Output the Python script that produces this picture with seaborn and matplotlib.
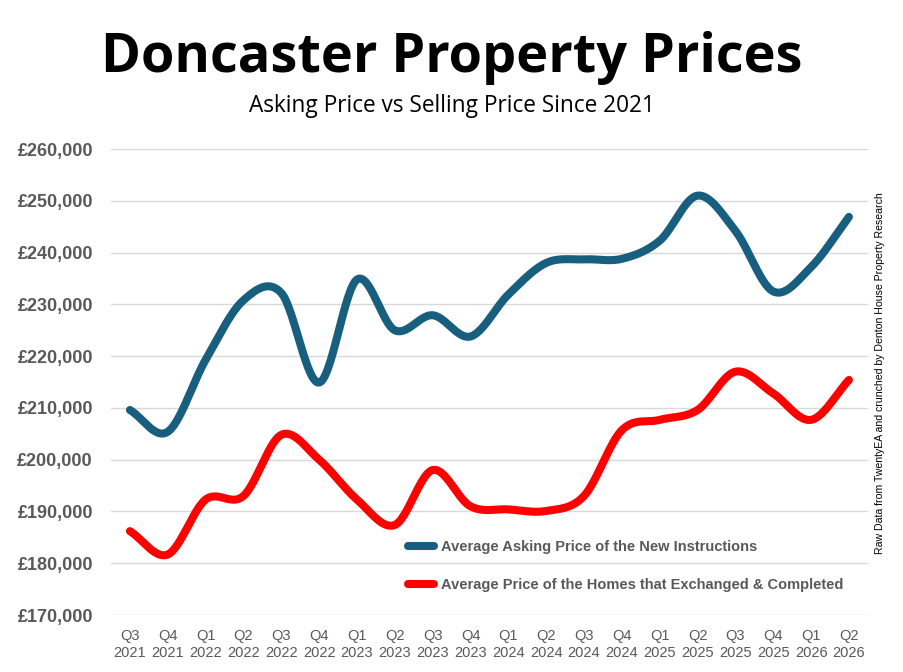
import numpy as np
import pandas as pd
import matplotlib
matplotlib.use("Agg")
import matplotlib.pyplot as plt
import seaborn as sns
from matplotlib.ticker import FuncFormatter

quarters = ["Q3\n2021", "Q4\n2021", "Q1\n2022", "Q2\n2022", "Q3\n2022", "Q4\n2022",
            "Q1\n2023", "Q2\n2023", "Q3\n2023", "Q4\n2023", "Q1\n2024", "Q2\n2024",
            "Q3\n2024", "Q4\n2024", "Q1\n2025", "Q2\n2025", "Q3\n2025", "Q4\n2025",
            "Q1\n2026", "Q2\n2026"]
asking = [209600, 205400, 219300, 230800, 232200, 214900, 234800, 225000, 227900, 223800,
          231900, 238000, 238700, 238800, 242300, 251000, 244200, 232500, 237200, 246900]
selling = [186200, 181700, 192300, 193000, 204800, 200000, 192300, 187400, 198000, 191000,
           190400, 190100, 193000, 205700, 207700, 209600, 217000, 212800, 207700, 215400]
asking_label = "Average Asking Price of the New Instructions"
selling_label = "Average Price of the Homes that Exchanged & Completed"
yticks = list(range(170000, 260001, 10000))

BLUE = "#175E7F"
RED = "#FF0000"
GREY = "#595959"


def smooth(y, n=30):
    y = np.asarray(y, dtype=float)
    m = len(y)
    t = np.empty(m)
    t[1:-1] = (y[2:] - y[:-2]) / 2.0
    t[0] = y[1] - y[0]
    t[-1] = y[-1] - y[-2]
    xs, ys = [], []
    for i in range(m - 1):
        s = np.linspace(0, 1, n, endpoint=(i == m - 2))
        h00 = 2 * s**3 - 3 * s**2 + 1
        h10 = s**3 - 2 * s**2 + s
        h01 = -2 * s**3 + 3 * s**2
        h11 = s**3 - s**2
        ys.append(h00 * y[i] + h10 * t[i] + h01 * y[i + 1] + h11 * t[i + 1])
        xs.append(i + s)
    return np.concatenate(xs), np.concatenate(ys)


frames = []
for lab, vals in [(asking_label, asking), (selling_label, selling)]:
    xx, yy = smooth(vals)
    frames.append(pd.DataFrame({"x": xx, "y": yy, "series": lab}))
df = pd.concat(frames, ignore_index=True)

sns.set_theme(style="white")
plt.rcParams["font.family"] = ["Liberation Sans", "DejaVu Sans"]

fig = plt.figure(figsize=(9.04, 6.72), dpi=100)
ax = fig.add_axes([0.1228, 0.0848, 0.8372, 0.6934])

sns.lineplot(data=df, x="x", y="y", hue="series",
             palette={asking_label: BLUE, selling_label: RED},
             estimator=None, sort=False, linewidth=5.8, ax=ax,
             solid_capstyle="round", legend=True)

ax.set_xlim(-0.5, 19.5)
ax.set_ylim(170000, 260000)
ax.set_yticks(yticks)
ax.yaxis.set_major_formatter(FuncFormatter(lambda v, p: f"£{int(v):,}"))
ax.set_xticks(range(len(quarters)))
ax.set_xticklabels(quarters)
ax.grid(axis="y", color="#D9D9D9", linewidth=1.0)
ax.grid(axis="x", visible=False)
for sp in ax.spines.values():
    sp.set_visible(False)
ax.set_xlabel("")
ax.set_ylabel("")
ax.tick_params(axis="y", length=0, pad=13, labelsize=13, labelcolor=GREY)
ax.tick_params(axis="x", length=0, pad=10, labelsize=10.5, labelcolor=GREY)
for t in ax.get_yticklabels():
    t.set_fontweight("bold")
for t in ax.get_xticklabels():
    t.set_linespacing(1.3)

leg = ax.legend(loc="upper left", bbox_to_anchor=(0.375, 0.19), frameon=False,
                handlelength=1.8, handletextpad=0.45, labelspacing=1.68,
                prop={"family": "Liberation Sans", "weight": "bold", "size": 10.5})
for line in leg.get_lines():
    line.set_linewidth(5.8)
    line.set_solid_capstyle("round")
for txt in leg.get_texts():
    txt.set_color(GREY)

fig.text(0.5, 0.913, "Doncaster Property Prices", ha="center", va="center",
         fontsize=39, fontweight="bold", family=["Open Sans", "DejaVu Sans"], color="black")
fig.text(0.5, 0.842, "Asking Price vs Selling Price Since 2021", ha="center", va="center",
         fontsize=16.3, family=["Open Sans", "DejaVu Sans"], color="black")
fig.text(0.974, 0.445, "Raw Data from TwentyEA and crunched by Denton House Property Research",
         rotation=90, ha="center", va="center", fontsize=7.6,
         family=["Liberation Sans", "DejaVu Sans"], color="black")

fig.savefig("out.png", dpi=100, facecolor="white")
